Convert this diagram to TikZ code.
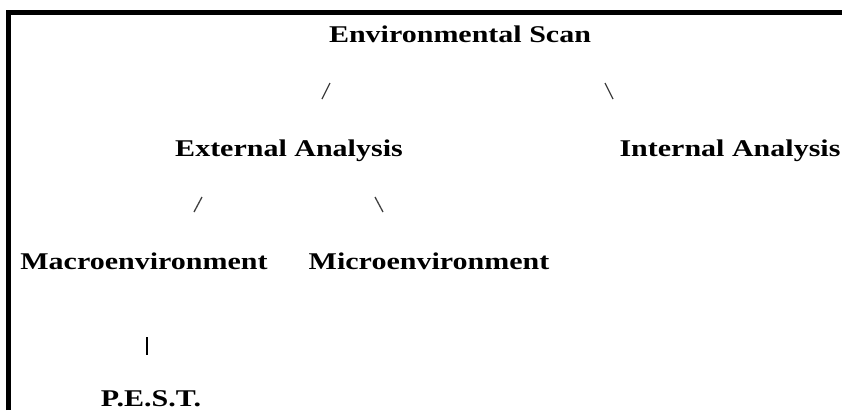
\documentclass[tikz,border=0pt]{standalone}
\usepackage{fontspec}
\setmainfont{Liberation Serif}[FakeStretch=1.25]
\usepackage{tikz}

\begin{document}
\begin{tikzpicture}[x=1pt,y=-1pt]
\tikzstyle{term}=[font=\fontsize{24}{28}\selectfont\bfseries,anchor=base,inner sep=0]
\tikzstyle{link}=[line width=1.3pt,black!75]
\useasboundingbox (0,0) rectangle (842,410);
\draw[line width=5pt] (8.5,410) -- (8.5,12.5) -- (842,12.5);
\node[term] (scan) at (460,42) {Environmental Scan};
\node[term] (ext) at (289,156) {External Analysis};
\node[term] (int) at (730,156) {Internal Analysis};
\node[term] (macro) at (144,269) {Macroenvironment};
\node[term] (micro) at (429,269) {Microenvironment};
\node[term] (pest) at (151,406) {P.E.S.T.};
\coordinate (a1) at (330,83);
\coordinate (a2) at (322,99);
\coordinate (b1) at (605,83);
\coordinate (b2) at (613,99);
\coordinate (c1) at (202,197);
\coordinate (c2) at (194,212);
\coordinate (d1) at (375,197);
\coordinate (d2) at (383,212);
\coordinate (e1) at (147,337);
\coordinate (e2) at (147,355);
\draw[link] (a1) -- (a2);
\draw[link] (b1) -- (b2);
\draw[link] (c1) -- (c2);
\draw[link] (d1) -- (d2);
\draw[link,line width=1.8pt,black] (e1) -- (e2);
\end{tikzpicture}
\end{document}
